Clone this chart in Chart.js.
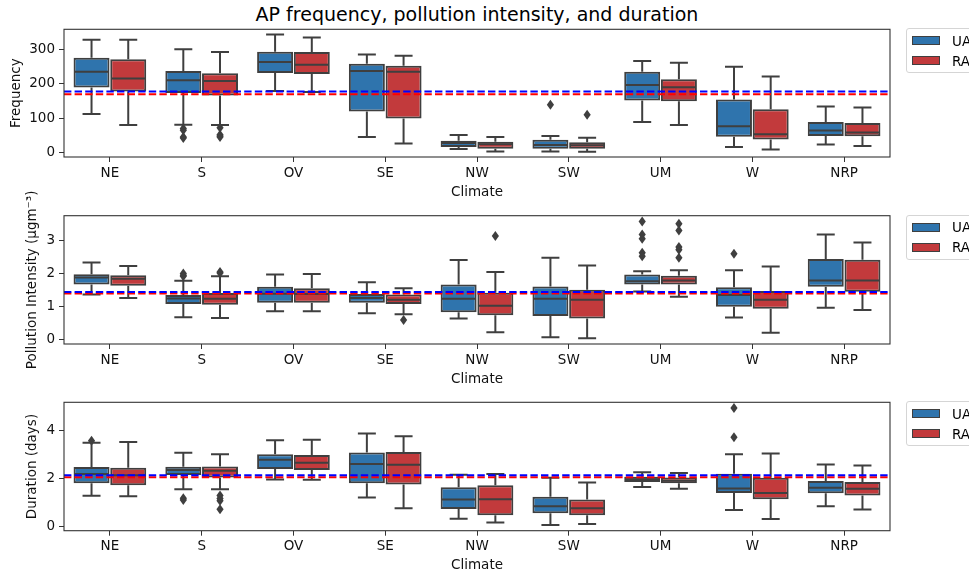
<!DOCTYPE html>
<html><head><meta charset="utf-8">
<script src="https://cdn.jsdelivr.net/npm/chart.js@4.4.1/dist/chart.umd.min.js"></script>
<style>
html,body{margin:0;padding:0;background:#fff;overflow:hidden;width:969px;height:571px;}
#wrap{position:relative;width:969px;height:571px;overflow:hidden;font-family:'DejaVu Sans',sans-serif;color:#000;}
canvas.pc{position:absolute;left:0;}
#title{position:absolute;top:5px;left:0;width:954px;text-align:center;font-size:19px;line-height:19px;white-space:nowrap;}
.leg{position:absolute;left:906px;width:90px;height:45px;border:1px solid #d5d5d5;border-radius:3px;background:rgba(255,255,255,0.8);box-sizing:border-box;}
.sw{position:absolute;left:5px;width:28px;height:9px;border:1px solid #3f3f3f;box-sizing:border-box;}
.lt{position:absolute;left:45px;font-size:13.5px;line-height:14px;white-space:nowrap;}
</style></head>
<body><div id="wrap">
<div id="title">AP frequency, pollution intensity, and duration</div>
<canvas id="c1" class="pc"></canvas>
<canvas id="c2" class="pc"></canvas>
<canvas id="c3" class="pc"></canvas>
</div>
<script>
// ---------------- data ----------------
const climates = ['NE','S','OV','SE','NW','SW','UM','W','NRP'];
const seriesNames = ['UA','RA'];

// [lower whisker, Q1, median, Q3, upper whisker]
const freqUA = [[112,189,235,275,328],[81,173,210,237,300],[179,231,263,293,343],[45,119,237,258,285],[10,16,28,34,51],[3,11,22,37,48],[89,151,196,235,266],[16,46,76,154,249],[23,48,64,89,134]];
const freqRA = [[80,177,215,271,328],[80,166,208,230,292],[176,228,255,292,334],[26,99,235,252,281],[3,11,24,31,45],[2,11,21,30,43],[80,149,190,213,261],[9,38,53,126,221],[19,47,58,86,131]];
const freqUAOut = [[],[70,65,45,42],[],[],[],[139],[],[],[]];
const freqRAOut = [[],[72,52,48,45],[],[],[],[110],[],[],[]];
const freqMeans = [177,169]; // UA, RA
const freqTicks = [0,100,200,300];

const polUA = [[1.37,1.67,1.88,1.98,2.33],[0.68,1.08,1.25,1.35,1.78],[0.86,1.12,1.39,1.60,1.97],[0.80,1.12,1.26,1.38,1.74],[0.64,0.83,1.24,1.67,2.41],[0.08,0.72,1.24,1.61,2.48],[1.46,1.67,1.77,1.97,2.07],[0.67,1.00,1.35,1.59,2.10],[0.97,1.60,1.79,2.44,3.18]];
const polRA = [[1.26,1.63,1.84,1.95,2.23],[0.66,1.06,1.24,1.41,1.92],[0.86,1.12,1.38,1.56,1.99],[0.77,1.08,1.21,1.37,1.56],[0.23,0.74,1.03,1.42,2.05],[0.05,0.64,1.21,1.51,2.24],[1.30,1.67,1.79,1.93,2.10],[0.21,0.94,1.21,1.47,2.21],[0.90,1.45,1.79,2.42,2.94]];
const polUAOut = [[],[2.00,1.95,1.92],[],[],[],[],[3.57,3.18,3.05,2.63,2.52],[2.60],[]];
const polRAOut = [[],[2.05,2.02],[],[0.60],[3.13],[],[3.50,3.30,2.80,2.72,2.48],[],[]];
const polMeans = [1.44,1.40];
const polTicks = [0,1,2,3];

const durUA = [[1.28,1.80,2.18,2.47,3.48],[1.55,2.14,2.35,2.48,3.07],[1.96,2.39,2.78,3.00,3.58],[1.21,1.80,2.60,3.08,3.86],[0.33,0.73,1.13,1.63,2.15],[0.07,0.55,0.85,1.24,2.03],[1.64,1.85,1.97,2.07,2.26],[0.69,1.39,1.58,2.19,3.00],[0.85,1.38,1.61,1.89,2.58]];
const durRA = [[1.26,1.72,2.13,2.44,3.51],[1.55,2.04,2.32,2.50,3.00],[1.94,2.35,2.65,2.97,3.61],[0.76,1.75,2.57,3.10,3.75],[0.17,0.47,1.14,1.72,2.18],[0.11,0.47,0.76,1.13,1.83],[1.57,1.80,1.90,2.04,2.22],[0.32,1.14,1.39,2.03,3.03],[0.71,1.29,1.57,1.85,2.54]];
const durUAOut = [[3.56],[1.18,1.10],[],[],[],[],[],[4.92,3.71],[]];
const durRAOut = [[],[1.29,1.17,1.07,0.72],[],[],[],[],[],[],[]];
const durMeans = [2.13,2.05];
const durTicks = [0,2,4];

// ---------------- style ----------------
const FONT = "'DejaVu Sans', sans-serif";
const BLUE = '#2f74ad', RED = '#c23a3c', EDGE = '#3f3f3f';
const MEANCOL = ['#0000ff','#ff0000'];

const boxExtras = {
  id: 'boxExtras',
  afterDatasetsDraw(chart) {
    const o = chart.options.plugins.boxExtras;
    const ctx = chart.ctx, y = chart.scales.y, ca = chart.chartArea;
    ctx.save();
    ctx.beginPath(); ctx.rect(ca.left, ca.top, ca.right - ca.left, ca.bottom - ca.top); ctx.clip();
    o.stats.forEach((stats, di) => {
      const meta = chart.getDatasetMeta(di);
      meta.data.forEach((bar, i) => {
        const st = stats[i]; const x = bar.x, w = bar.width;
        const p = v => y.getPixelForValue(v);
        ctx.strokeStyle = EDGE; ctx.lineWidth = 2; ctx.lineCap = 'butt';
        ctx.beginPath();
        ctx.moveTo(x, p(st[1])); ctx.lineTo(x, p(st[0]));
        ctx.moveTo(x, p(st[3])); ctx.lineTo(x, p(st[4]));
        ctx.moveTo(x - w/4, p(st[0])); ctx.lineTo(x + w/4, p(st[0]));
        ctx.moveTo(x - w/4, p(st[4])); ctx.lineTo(x + w/4, p(st[4]));
        ctx.moveTo(x - w/2 + 1, p(st[2])); ctx.lineTo(x + w/2 - 1, p(st[2]));
        ctx.stroke();
        ctx.fillStyle = EDGE;
        o.outliers[di][i].forEach(v => {
          const py = p(v);
          ctx.beginPath();
          ctx.moveTo(x, py - 5); ctx.lineTo(x + 3.6, py); ctx.lineTo(x, py + 5); ctx.lineTo(x - 3.6, py);
          ctx.closePath(); ctx.fill();
        });
      });
    });
    // mean lines: RA (red) first, UA (blue) on top
    [1,0].forEach(k => {
      const py = y.getPixelForValue(o.means[k]);
      ctx.strokeStyle = MEANCOL[k]; ctx.lineWidth = 2; ctx.setLineDash([7.4,3.2]);
      ctx.beginPath(); ctx.moveTo(ca.left, py); ctx.lineTo(ca.right, py); ctx.stroke();
    });
    ctx.restore();
  },
  afterDraw(chart) {
    const ctx = chart.ctx, ca = chart.chartArea;
    ctx.save(); ctx.strokeStyle = '#333'; ctx.lineWidth = 1.1;
    ctx.strokeRect(ca.left, ca.top, ca.right - ca.left, ca.bottom - ca.top);
    ctx.restore();
  }
};

function makePanel(id, plotTop, plotBottom, padLeft, ylabel, ua, ra, uaOut, raOut, means, ticks, ymin, ymax) {
  const canvas = document.getElementById(id);
  const canvasTop = Math.max(0, Math.floor(plotTop) - 40);
  const padTop = plotTop - canvasTop;
  const lineH = 13.5 * 1.2;
  const xAxisH = 35 + lineH / 2;
  const H = Math.ceil(padTop + (plotBottom - plotTop) + xAxisH);
  const xH = H - padTop - (plotBottom - plotTop);
  canvas.width = 969; canvas.height = H;
  canvas.style.top = canvasTop + 'px'; canvas.style.width = '969px'; canvas.style.height = H + 'px';
  const yW = 64 - padLeft;
  new Chart(canvas, {
    type: 'bar',
    data: {
      labels: climates,
      datasets: [
        { label: seriesNames[0], data: ua.map(s => [s[1], s[3]]), backgroundColor: BLUE, borderColor: EDGE, borderWidth: 2, borderSkipped: false, categoryPercentage: 0.8, barPercentage: 0.98 },
        { label: seriesNames[1], data: ra.map(s => [s[1], s[3]]), backgroundColor: RED, borderColor: EDGE, borderWidth: 2, borderSkipped: false, categoryPercentage: 0.8, barPercentage: 0.98 }
      ]
    },
    options: {
      responsive: false, animation: false, devicePixelRatio: 1,
      layout: { padding: { left: padLeft, right: 969 - 890, top: padTop, bottom: 0 } },
      plugins: {
        legend: { display: false }, tooltip: { enabled: false }, title: { display: false },
        boxExtras: { stats: [ua, ra], outliers: [uaOut, raOut], means: means }
      },
      scales: {
        x: {
          type: 'category', offset: true,
          grid: { display: true, drawOnChartArea: false, drawTicks: true, tickLength: 5, offset: false, tickColor: '#333', tickWidth: 1 },
          border: { display: false },
          ticks: { color: '#111', font: { family: FONT, size: 13.5 }, padding: 3, maxRotation: 0, autoSkip: false },
          title: { display: true, text: 'Climate', color: '#111', font: { family: FONT, size: 13.5 }, padding: { top: 0, bottom: 0 } },
          afterFit: s => { s.height = xH; }
        },
        y: {
          type: 'linear', min: ymin, max: ymax,
          afterBuildTicks: s => { s.ticks = ticks.map(v => ({ value: v })); },
          grid: { display: true, drawOnChartArea: false, drawTicks: true, tickLength: 5, tickColor: '#333', tickWidth: 1 },
          border: { display: false },
          ticks: { color: '#111', font: { family: FONT, size: 13.5 }, padding: 4, callback: v => String(v) },
          title: { display: true, text: ylabel, color: '#111', font: { family: FONT, size: 13.5 }, padding: { top: 0, bottom: 0 } },
          afterFit: s => { s.width = yW; }
        }
      }
    },
    plugins: [boxExtras]
  });
  // legend (HTML)
  const wrap = document.getElementById('wrap');
  const leg = document.createElement('div'); leg.className = 'leg'; leg.style.top = (plotTop - 1) + 'px';
  [[BLUE, seriesNames[0], 7], [RED, seriesNames[1], 27]].forEach(([c, t, off]) => {
    const sw = document.createElement('div'); sw.className = 'sw'; sw.style.background = c; sw.style.top = off + 'px';
    const lt = document.createElement('div'); lt.className = 'lt'; lt.textContent = t; lt.style.top = (off - 2.5) + 'px';
    leg.appendChild(sw); leg.appendChild(lt);
  });
  wrap.appendChild(leg);
}

makePanel('c1', 29.3, 157, 8.4, 'Frequency', freqUA, freqRA, freqUAOut, freqRAOut, freqMeans, freqTicks, -13, 358);
makePanel('c2', 215.7, 344, 24.2, 'Pollution Intensity (μgm⁻³)', polUA, polRA, polUAOut, polRAOut, polMeans, polTicks, -0.126, 3.746);
makePanel('c3', 402.3, 530.7, 24.2, 'Duration (days)', durUA, durRA, durUAOut, durRAOut, durMeans, durTicks, -0.17, 5.16);
</script>
</body></html>
